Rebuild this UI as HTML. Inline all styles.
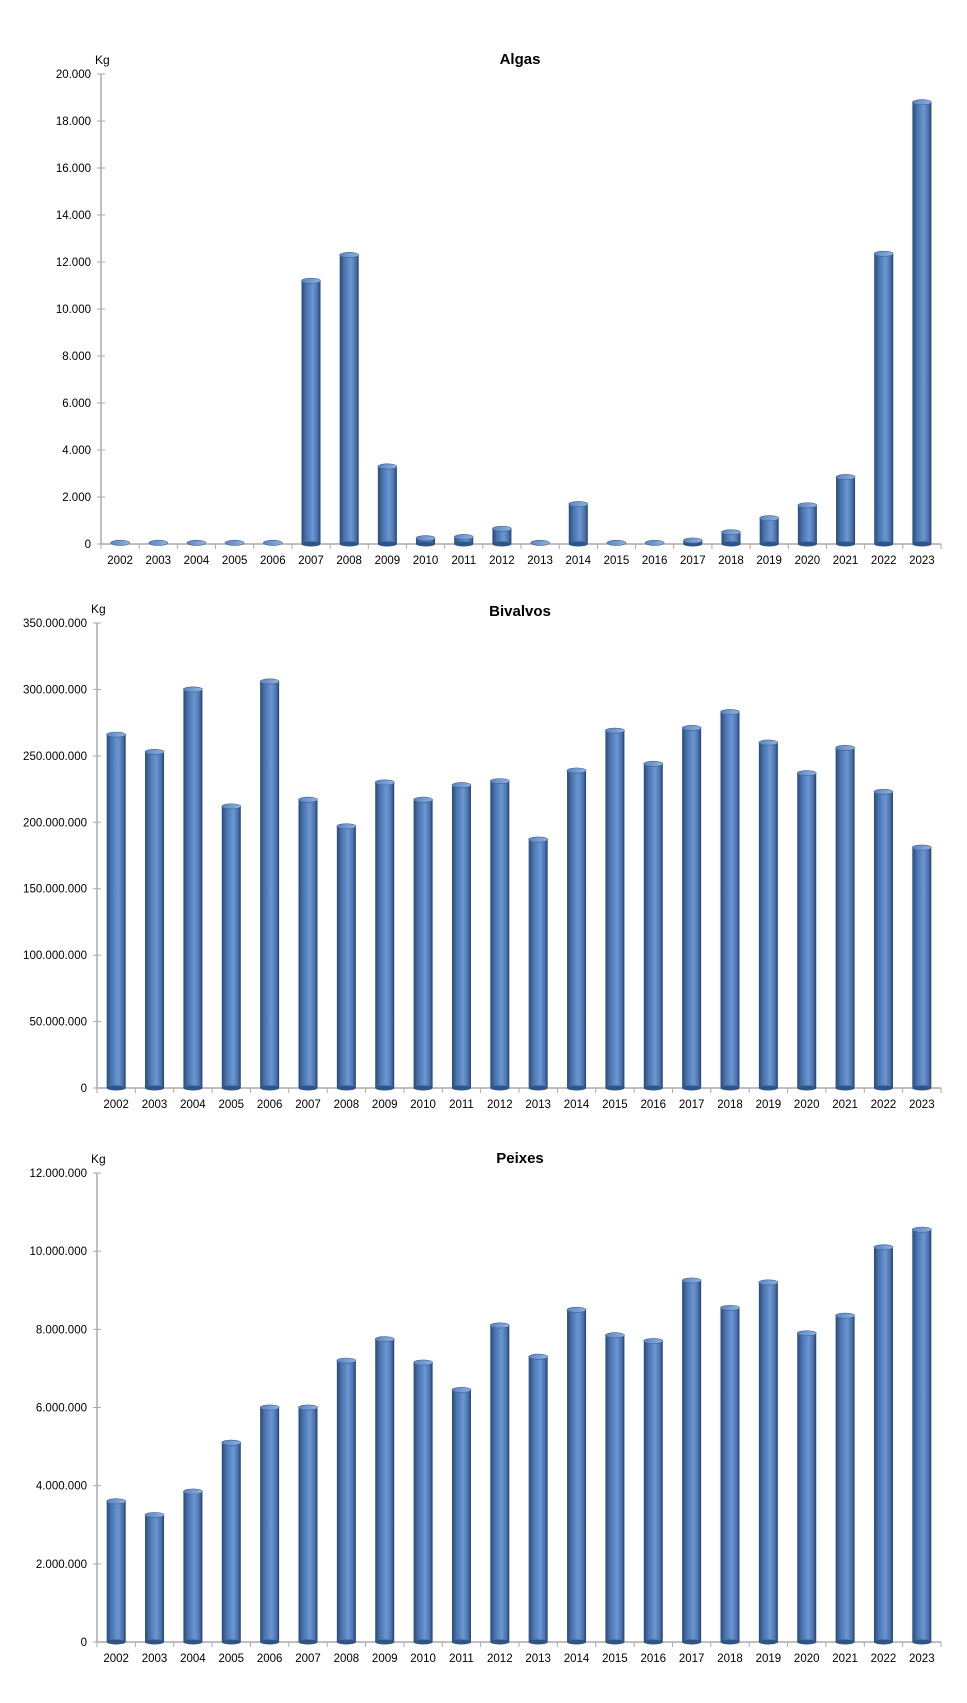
<!DOCTYPE html>
<html><head><meta charset="utf-8"><style>
html,body{margin:0;padding:0;background:#fff}
svg{display:block}
text{font-family:"Liberation Sans",sans-serif;fill:#000}
</style></head><body>
<svg id="s" width="967" height="1703" xmlns="http://www.w3.org/2000/svg">
<defs>
<linearGradient id="cyl" x1="0" x2="1" y1="0" y2="0">
<stop offset="0" stop-color="#2a4a78"/>
<stop offset="0.25" stop-color="#4a74b0"/>
<stop offset="0.6" stop-color="#6b97d2"/>
<stop offset="0.85" stop-color="#4a72ad"/>
<stop offset="1" stop-color="#243f68"/>
</linearGradient>
<linearGradient id="cap" x1="0" x2="1" y1="0" y2="0">
<stop offset="0" stop-color="#5d84bd"/>
<stop offset="1" stop-color="#8fb1de"/>
</linearGradient>
</defs>
</svg>
<script>
var s=document.getElementById('s'),NS='http://www.w3.org/2000/svg';
function el(t,a,txt){var e=document.createElementNS(NS,t);for(var k in a)e.setAttribute(k,a[k]);if(txt!=null)e.textContent=txt;s.appendChild(e);return e;}
function fmt(n){return n.toString().replace(/\B(?=(\d{3})+(?!\d))/g,'.');}
function chart(o){
 var ax=o.ax,top=o.top,bot=o.bot,end=941,cw=(end-ax)/22;
 el('text',{x:520,y:o.ty,'text-anchor':'middle','font-size':'15','font-weight':'bold'},o.title);
 el('text',{x:ax-6,y:top-10,'font-size':'12'},'Kg');
 el('line',{x1:ax,y1:top,x2:ax,y2:bot,stroke:'#aaa','stroke-width':1.5});
 el('line',{x1:ax,y1:bot,x2:end,y2:bot,stroke:'#aaa','stroke-width':1.5});
 for(var i=0;i<=o.n;i++){var y=top+(bot-top)*(1-i/o.n);
  el('line',{x1:ax-4,y1:y,x2:ax+4,y2:y,stroke:'#aaa'});
  el('text',{x:ax-10,y:y+4,'text-anchor':'end','font-size':'11.5'},fmt(o.step*i));}
 for(var i=0;i<=22;i++){var x=ax+cw*i;el('line',{x1:x,y1:bot,x2:x,y2:bot+5,stroke:'#aaa'});}
 o.d.forEach(function(v,i){
  var cx=ax+cw*(i+0.5),w=19,h=(bot-top)*v/(o.step*o.n),y=bot-h;
  if(h>3){el('rect',{x:cx-w/2,y:y,width:w,height:h,fill:'url(#cyl)'});
   el('ellipse',{cx:cx,cy:bot,rx:w/2,ry:2.5,fill:'#2f5585'});}
  el('ellipse',{cx:cx,cy:y,rx:w/2,ry:2.6,fill:'url(#cap)',stroke:'#3b629a','stroke-width':0.6});
  el('text',{x:cx,y:bot+20,'text-anchor':'middle','font-size':'11.5'},2002+i);
 });
}
chart({title:'Algas',ty:64,ax:101,top:74,bot:544,n:10,step:2000,
 d:[50,50,50,50,50,11200,12300,3300,250,300,650,50,1700,50,50,150,500,1100,1650,2850,12350,18800]});
chart({title:'Bivalvos',ty:616,ax:97,top:623,bot:1088,n:7,step:50000000,
 d:[266,253,300,212,306,217,197,230,217,228,231,187,239,269,244,271,283,260,237,256,223,181].map(function(x){return x*1e6})});
chart({title:'Peixes',ty:1163,ax:97,top:1173,bot:1642,n:6,step:2000000,
 d:[3.6,3.25,3.85,5.1,6.0,6.0,7.2,7.75,7.15,6.45,8.1,7.3,8.5,7.85,7.7,9.25,8.55,9.2,7.9,8.35,10.1,10.55].map(function(x){return x*1e6})});
</script>
</body></html>
